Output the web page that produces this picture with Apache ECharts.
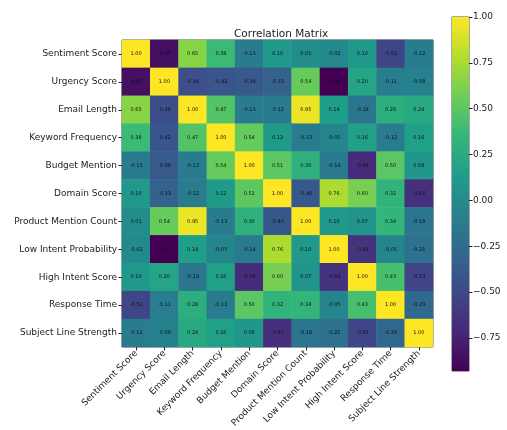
<!DOCTYPE html>
<html>
<head>
<meta charset="utf-8">
<script src="https://cdn.jsdelivr.net/npm/echarts@6/dist/echarts.min.js"></script>
<style>
  html, body { margin: 0; padding: 0; background: #fff; }
  #chart { width: 507px; height: 430px; }
</style>
</head>
<body>
<div id="chart"></div>
<script>
// Feature names (rows top to bottom, columns left to right)
const features = [
  'Sentiment Score', 'Urgency Score', 'Email Length', 'Keyword Frequency',
  'Budget Mention', 'Domain Score', 'Product Mention Count',
  'Low Intent Probability', 'High Intent Score', 'Response Time',
  'Subject Line Strength'
];

// Correlation coefficients, one row per feature
const rowSentiment = [1.00, -0.85, 0.65, 0.38, -0.13, 0.10, 0.01, -0.02, 0.10, -0.52, -0.12];
const rowUrgency   = [-0.85, 1.00, -0.46, -0.42, -0.39, -0.33, 0.54, -0.93, 0.20, -0.11, -0.08];
const rowLength    = [0.65, -0.46, 1.00, 0.47, -0.13, -0.12, 0.95, 0.14, -0.18, 0.28, 0.24];
const rowKeyword   = [0.38, -0.42, 0.47, 1.00, 0.54, 0.12, -0.13, -0.05, 0.16, -0.12, 0.16];
const rowBudget    = [-0.13, -0.39, -0.13, 0.54, 1.00, 0.51, 0.30, -0.14, -0.68, 0.50, 0.08];
const rowDomain    = [0.10, -0.33, -0.12, 0.12, 0.51, 1.00, -0.40, 0.76, 0.60, 0.32, -0.67];
const rowProduct   = [0.01, 0.54, 0.95, -0.13, 0.30, -0.40, 1.00, 0.10, 0.07, 0.34, -0.18];
const rowLowIntent = [-0.02, -0.93, 0.14, -0.05, -0.14, 0.76, 0.10, 1.00, -0.64, -0.05, -0.21];
const rowHighIntent= [0.10, 0.20, -0.18, 0.16, -0.68, 0.60, 0.07, -0.64, 1.00, 0.43, -0.53];
const rowResponse  = [-0.52, -0.11, 0.28, -0.12, 0.50, 0.32, 0.34, -0.05, 0.43, 1.00, -0.29];
const rowSubject   = [-0.12, -0.08, 0.24, 0.16, 0.08, -0.67, -0.18, -0.21, -0.53, -0.29, 1.00];

const matrix = [rowSentiment, rowUrgency, rowLength, rowKeyword, rowBudget, rowDomain,
                rowProduct, rowLowIntent, rowHighIntent, rowResponse, rowSubject];

// Colour bar tick labels
const colorbarTicks = [-0.75, -0.50, -0.25, 0.00, 0.25, 0.50, 0.75, 1.00];

const viridis = ['#440154', '#482878', '#3e4989', '#31688e', '#26828e',
                 '#1f9e89', '#35b779', '#6ece58', '#b5de2b', '#fde725'];

const flat = matrix.flat();
const vMin = Math.min(...flat);
const vMax = Math.max(...flat);

const cells = [];
matrix.forEach((row, r) => row.forEach((v, c) => cells.push([c, r, v])));

const FONT = 'DejaVu Sans';
const chart = echarts.init(document.getElementById('chart'), null, { renderer: 'canvas' });

chart.setOption({
  backgroundColor: '#fff',
  animation: false,
  textStyle: { fontFamily: FONT },
  title: {
    text: 'Correlation Matrix',
    left: 229, top: 24,
    textStyle: { fontFamily: FONT, fontSize: 10.5, fontWeight: 'normal', color: '#222' }
  },
  grid: [
    { left: 122, top: 40, width: 311, height: 310, show: true,
      borderColor: '#222', borderWidth: 0.8, backgroundColor: 'transparent' },
    { left: 452, top: 17, width: 17, height: 354, show: true,
      borderColor: '#222', borderWidth: 0.8, backgroundColor: 'transparent' }
  ],
  xAxis: [
    {
      type: 'category', data: features, gridIndex: 0, position: 'bottom',
      axisLine: { show: false },
      axisTick: { show: true, alignWithLabel: true, length: 3.5, lineStyle: { color: '#222' } },
      axisLabel: { rotate: 45, fontSize: 9, color: '#222', fontFamily: FONT, margin: 5, interval: 0 },
      splitLine: { show: false }
    },
    {
      type: 'category', data: [''], gridIndex: 1,
      axisLine: { show: false }, axisTick: { show: false }, axisLabel: { show: false }
    }
  ],
  yAxis: [
    {
      type: 'category', data: features, gridIndex: 0, inverse: true,
      axisLine: { show: false },
      axisTick: { show: true, alignWithLabel: true, length: 3.5, lineStyle: { color: '#222' } },
      axisLabel: { fontSize: 9, color: '#222', fontFamily: FONT, margin: 5, interval: 0 },
      splitLine: { show: false }
    },
    {
      type: 'value', gridIndex: 1, position: 'right', min: vMin, max: vMax,
      axisLine: { show: false },
      axisTick: { show: true, length: 3.5, lineStyle: { color: '#222' }, customValues: colorbarTicks },
      axisLabel: { fontSize: 9, color: '#222', fontFamily: FONT, margin: 4,
                   customValues: colorbarTicks,
                   formatter: v => (v < 0 ? '\u2212' + Math.abs(v).toFixed(2) : v.toFixed(2)) },
      splitLine: { show: false }
    }
  ],
  visualMap: {
    show: false, min: vMin, max: vMax, seriesIndex: 0, dimension: 2,
    inRange: { color: viridis }
  },
  series: [
    {
      type: 'heatmap', xAxisIndex: 0, yAxisIndex: 0, data: cells,
      label: {
        show: true, fontSize: 5, color: '#111', fontFamily: FONT,
        formatter: p => p.value[2].toFixed(2)
      },
      itemStyle: { borderWidth: 0 },
      emphasis: { disabled: true }
    },
    {
      // colour bar gradient spanning the data range
      type: 'custom', xAxisIndex: 1, yAxisIndex: 1, data: [[0, vMin, vMax]],
      renderItem: (params, api) => {
        const top = api.coord([0, api.value(2)]);
        const bottom = api.coord([0, api.value(1)]);
        const w = api.size([1, 0])[0];
        const stops = viridis.map((c, i) => ({ offset: 1 - i / (viridis.length - 1), color: c }));
        return {
          type: 'rect',
          shape: { x: top[0] - w / 2, y: top[1], width: w, height: bottom[1] - top[1] },
          style: { fill: new echarts.graphic.LinearGradient(0, 0, 0, 1, stops) }
        };
      },
      silent: true, z: 1
    }
  ]
});
</script>
</body>
</html>
